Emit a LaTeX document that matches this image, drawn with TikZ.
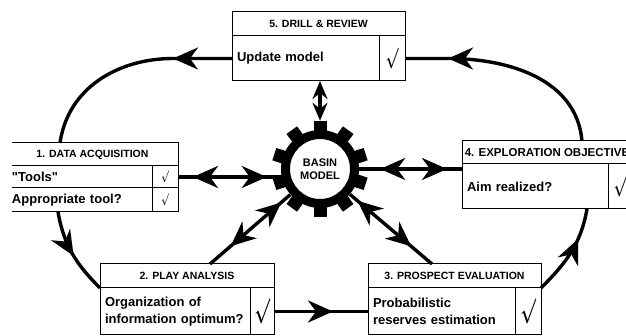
\documentclass[tikz,border=0pt]{standalone}
\usepackage{fontspec}
\setmainfont{Liberation Sans}
\usetikzlibrary{arrows.meta,positioning,decorations.markings}

\newcommand{\checksign}[1]{{\fontsize{#1}{#1}\selectfont\scalebox{0.65}[1]{\boldmath$\surd$}}}

\tikzset{
  bigtip/.tip={Stealth[length=25pt,width=22pt,inset=8pt]},
  smalltip/.tip={Stealth[length=18pt,width=15pt,inset=6pt]},
  headbox/.style={draw, line width=1pt, outer sep=0pt, inner sep=0pt, minimum height=24pt, font=\fontsize{10.5}{12}\selectfont\bfseries},
  bodybox/.style={draw, line width=1pt, outer sep=0pt, inner xsep=5pt, inner ysep=0pt, align=left, font=\fontsize{13}{17}\selectfont\bfseries},
  checkbox/.style={draw, line width=1pt, outer sep=0pt, inner sep=0pt},
  flow/.style={line width=3.4pt},
  oneway/.style={postaction={decorate}, decoration={markings, mark=at position #1 with {\arrow{bigtip}}}},
  twoway/.style 2 args={postaction={decorate}, decoration={markings, mark=at position #1 with {\arrowreversed{bigtip}}, mark=at position #2 with {\arrow{bigtip}}}}
}

\begin{document}
\begin{tikzpicture}[x=1pt,y=1pt]

    \useasboundingbox (0,0) rectangle (626,336);
    \clip (12,0) rectangle (626,336);

    %draw the basin model gear
    \node[circle, minimum size=78pt, inner sep=0pt, align=center, font=\fontsize{11}{12.5}\selectfont\bfseries] (basin) at (320,167) {BASIN\\MODEL};
    \fill[even odd rule] (basin.center) circle (39) (basin.center) circle (30);
    \foreach \a in {18,54,...,342}
        \fill[shift={(basin.center)}, rotate=\a] (36,-6.5) rectangle (48,6.5);

    %draw box 5
    \node[headbox, minimum width=173pt, anchor=north west] (drillh) at (232,324) {5. DRILL \& REVIEW};
    \node[bodybox, text width=137pt, minimum height=45pt, below=0pt of drillh.south west, anchor=north west] (drillb) {Update model};
    \node[checkbox, minimum width=26pt, minimum height=45pt, right=0pt of drillb] (drillc) {\checksign{20}};

    %draw box 1
    \node[headbox, minimum width=171pt, minimum height=23pt, anchor=north west] (acqh) at (7,193) {1. DATA ACQUISITION};
    \node[bodybox, text width=135pt, minimum height=22pt, below=0pt of acqh.south west, anchor=north west] (acqb1) {\textquotedbl Tools\textquotedbl};
    \node[checkbox, minimum width=26pt, minimum height=22pt, right=0pt of acqb1] (acqc1) {\checksign{13}};
    \node[bodybox, text width=135pt, minimum height=24pt, below=0pt of acqb1.south west, anchor=north west] (acqb2) {Appropriate tool?};
    \node[checkbox, minimum width=26pt, minimum height=24pt, right=0pt of acqb2] (acqc2) {\checksign{13}};

    %draw box 2
    \node[headbox, minimum width=174pt, anchor=north west] (playh) at (100,72) {2. PLAY ANALYSIS};
    \node[bodybox, text width=140pt, minimum height=47pt, below=0pt of playh.south west, anchor=north west] (playb) {Organization of\\information optimum?};
    \node[checkbox, minimum width=24pt, minimum height=47pt, right=0pt of playb] (playc) {\checksign{25}};

    %draw box 3
    \node[headbox, minimum width=173pt, anchor=north west] (prosph) at (368,72) {3. PROSPECT EVALUATION};
    \node[bodybox, text width=137pt, minimum height=47pt, below=0pt of prosph.south west, anchor=north west] (prospb) {Probabilistic\\reserves estimation};
    \node[checkbox, minimum width=26pt, minimum height=47pt, right=0pt of prospb] (prospc) {\checksign{25}};

    %draw box 4
    \node[headbox, minimum width=170pt, minimum height=23pt, anchor=north west, font=\fontsize{11.5}{12}\selectfont\bfseries] (objh) at (462,195) {4. EXPLORATION OBJECTIVE};
    \node[bodybox, text width=136pt, minimum height=45pt, below=0pt of objh.south west, anchor=north west] (objb) {Aim realized?};
    \node[checkbox, minimum width=24pt, minimum height=45pt, right=0pt of objb] (objc) {\checksign{20}};

    %draw the cycle
    \draw[flow, oneway=59pt] (drillb.west) -- ([xshift=-59]drillb.west) to[out=180,in=82] ([xshift=53]acqh.north west);
    \draw[flow, oneway=47pt] ([xshift=51]acqb2.south west) to[out=-80,in=135] (playh.south west);
    \draw[flow, oneway=59pt] (playc.east) -- (prospb.west);
    \draw[flow, oneway=62pt] (prosph.south east) to[out=45,in=-100] ([xshift=125]objb.south west);
    \draw[flow, oneway=-43pt] ([xshift=120]objh.north west) to[out=95,in=0] ([xshift=43]drillc.east) -- (drillc.east);

    %draw links to the basin model
    \draw[flow, {smalltip}-{smalltip}] ([yshift=9]basin.north) -- (basin.north |- drillb.south);
    \draw[flow, twoway={15pt}{-14pt}] (acqc1.east) -- (acqc1.east -| basin.west);
    \draw[flow, twoway={21pt}{-15pt}] (basin.east) -- (basin.east -| objb.west);
    \draw[flow, twoway={12pt}{-27pt}] (basin) -- ([xshift=110]playh.north west);
    \draw[flow, twoway={10pt}{-27pt}] (basin) -- ([xshift=64]prosph.north west);

\end{tikzpicture}
\end{document}
